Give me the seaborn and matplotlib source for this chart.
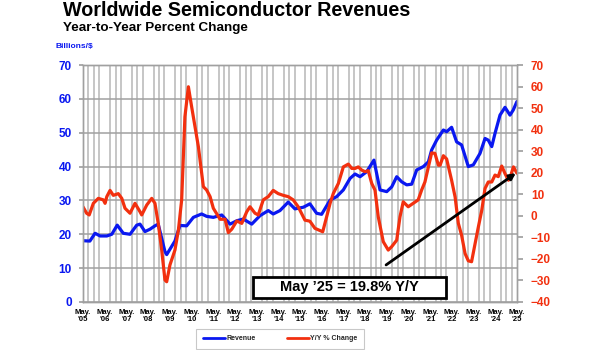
import matplotlib
matplotlib.use("Agg")
import matplotlib.pyplot as plt
import seaborn as sns
import numpy as np
from matplotlib.lines import Line2D
from matplotlib.patches import Rectangle

# ---- data ----
rev_t = [2005.33, 2005.65, 2005.89, 2006.12, 2006.43, 2006.66, 2006.91, 2007.19, 2007.50, 2007.81,
         2007.96, 2008.19, 2008.42, 2008.65, 2008.80, 2009.11, 2009.19, 2009.57, 2009.80, 2010.11,
         2010.42, 2010.80, 2011.03, 2011.34, 2011.73, 2012.11, 2012.42, 2012.72, 2013.11, 2013.49,
         2013.87, 2014.10, 2014.41, 2014.79, 2015.10, 2015.49, 2015.79, 2016.10, 2016.33, 2016.72,
         2017.02, 2017.33, 2017.64, 2017.87, 2018.10, 2018.41, 2018.74, 2019.02, 2019.33, 2019.56,
         2019.79, 2020.02, 2020.25, 2020.48, 2020.71, 2021.02, 2021.25, 2021.40, 2021.63, 2021.94,
         2022.09, 2022.32, 2022.55, 2022.78, 2023.09, 2023.32, 2023.63, 2023.86, 2024.01, 2024.17,
         2024.32, 2024.55, 2024.78, 2025.01, 2025.16, 2025.33]
rev_v = [18.1, 18.0, 20.3, 19.5, 19.5, 20.0, 22.7, 20.3, 20.0, 22.7,
         23.0, 20.8, 21.5, 22.5, 23.0, 14.9, 14.0, 18.0, 22.6, 22.5,
         25.0, 26.0, 25.3, 25.0, 25.7, 23.0, 24.0, 24.5, 23.0, 25.5,
         27.0, 26.0, 27.0, 29.5, 27.5, 28.0, 29.0, 26.2, 25.9, 30.1,
         31.1, 33.1, 36.5, 37.8, 37.0, 38.5, 41.9, 33.1, 32.6, 34.0,
         37.0, 35.5, 34.6, 34.8, 39.0, 40.0, 41.4, 44.9, 47.8, 50.8,
         50.3, 51.6, 47.3, 46.4, 40.0, 40.5, 43.9, 48.3, 47.8, 45.9,
         49.8, 55.2, 57.5, 55.2, 56.7, 59.2]

yoy_t = [2005.33, 2005.50, 2005.62, 2005.81, 2006.04, 2006.27, 2006.35, 2006.43, 2006.58, 2006.73,
         2006.96, 2007.12, 2007.27, 2007.50, 2007.73, 2007.96, 2008.04, 2008.27, 2008.50, 2008.65,
         2008.80, 2008.96, 2009.11, 2009.19, 2009.34, 2009.57, 2009.73, 2009.88, 2010.03, 2010.19,
         2010.34, 2010.65, 2010.88, 2011.03, 2011.19, 2011.34, 2011.65, 2011.88, 2012.03, 2012.19,
         2012.42, 2012.65, 2012.88, 2013.03, 2013.26, 2013.41, 2013.64, 2013.87, 2014.10, 2014.33,
         2014.56, 2014.79, 2015.02, 2015.25, 2015.56, 2015.79, 2016.02, 2016.38, 2016.56, 2016.72,
         2016.87, 2017.10, 2017.33, 2017.56, 2017.72, 2017.87, 2018.02, 2018.18, 2018.33, 2018.48,
         2018.64, 2018.79, 2018.94, 2019.17, 2019.40, 2019.56, 2019.79, 2019.94, 2020.09, 2020.32,
         2020.55, 2020.78, 2020.94, 2021.09, 2021.25, 2021.40, 2021.55, 2021.71, 2021.79, 2021.94,
         2022.09, 2022.32, 2022.48, 2022.63, 2022.78, 2022.94, 2023.09, 2023.24, 2023.40, 2023.55,
         2023.71, 2023.86, 2024.01, 2024.17, 2024.32, 2024.47, 2024.63, 2024.78, 2024.94, 2025.05,
         2025.17, 2025.33]
yoy_v = [4.2, 1.2, 0.4, 5.8, 8.1, 7.4, 5.8, 8.9, 11.8, 9.5,
         10.3, 8.1, 3.5, 1.2, 5.8, 1.9, 0.4, 5.0, 8.1, 5.8,
         -3.5, -15.9, -29.8, -30.6, -22.8, -15.9, -6.6, 7.4, 46.0, 59.9,
         50.6, 32.1, 13.5, 12.0, 8.9, 3.5, -1.6, -1.6, -7.8, -6.2,
         -2.4, -3.5, 1.9, 4.2, 1.2, 0.4, 7.4, 8.9, 11.8, 10.3,
         9.5, 8.9, 7.4, 4.2, -2.0, -2.5, -5.8, -7.4, -0.5, 5.8,
         10.4, 15.0, 22.7, 24.0, 22.0, 22.0, 22.7, 21.2, 20.5, 20.9,
         15.0, 11.9, -0.5, -12.0, -15.9, -14.3, -11.3, -0.5, 6.5, 4.2,
         5.8, 7.4, 12.0, 15.7, 22.7, 29.2, 29.0, 23.5, 23.5, 27.9,
         26.4, 16.5, 8.8, -3.5, -9.0, -17.5, -20.9, -21.3, -13.0, -5.3,
         2.6, 12.7, 15.7, 15.7, 18.9, 18.2, 23.1, 19.6, 16.5, 18.9,
         22.7, 19.8]

years = list(range(2005, 2026))
x_labels = ["May.\n'%02d" % (y % 100) for y in years]
left_ticks = [0, 10, 20, 30, 40, 50, 60, 70]
right_ticks = [-40, -30, -20, -10, 0, 10, 20, 30, 40, 50, 60, 70]

title = "Worldwide Semiconductor Revenues"
subtitle = "Year-to-Year Percent Change"
callout = "May \u201925 = 19.8% Y/Y"

BLUE = "#0a18f0"
RED = "#f2300f"
GRID_H = "#a0a0a0"
GRID_V = "#bcbcbc"

sns.set_theme(style="white")
plt.rcParams['font.family'] = ['Liberation Sans', 'DejaVu Sans']

W, H = 600, 350
fig = plt.figure(figsize=(W / 100, H / 100), dpi=100)
fig.patch.set_facecolor("white")
L, R, T, B = 83, 517, 65, 302
ax = fig.add_axes([L / W, 1 - B / H, (R - L) / W, (B - T) / H])
ax2 = ax.twinx()

sns.lineplot(x=rev_t, y=rev_v, ax=ax, color=BLUE, linewidth=2.3, sort=False)
sns.lineplot(x=yoy_t, y=yoy_v, ax=ax2, color=RED, linewidth=2.3, sort=False)

x0 = years[0] + 4 / 12
x1 = years[-1] + 4 / 12
ax.set_xlim(x0, x1)
ax.set_ylim(0, 70)
ax2.set_ylim(-40, 70)

ax.set_xticks([y + 4 / 12 for y in years])
ax.set_xticklabels(x_labels)
ax.set_xticks(np.arange(x0, x1 + 0.01, 0.25), minor=True)
ax.set_yticks(left_ticks)
ax2.set_yticks(right_ticks)

ax.grid(False)
ax2.grid(False)
ax.grid(axis="x", which="minor", color=GRID_V, linewidth=1.2)
ax.grid(axis="y", which="major", color=GRID_H, linewidth=1.1)
ax.set_axisbelow(True)

ax.tick_params(axis="x", which="major", length=0, pad=5, labelsize=5.5, labelcolor="black")
ax.tick_params(axis="x", which="minor", length=0)
for lbl in ax.get_xticklabels():
    lbl.set_fontweight("bold")
    lbl.set_linespacing(1.1)
ax.tick_params(axis="y", length=3, color=GRID_H, pad=5, labelsize=8.5, labelcolor=BLUE)
for lbl in ax.get_yticklabels():
    lbl.set_fontweight("bold")
ax2.tick_params(axis="y", length=4, color=GRID_H, pad=6, labelsize=8.5, labelcolor=RED)
for lbl in ax2.get_yticklabels():
    lbl.set_fontweight("bold")

for a in (ax, ax2):
    a.set_xlabel("")
    a.set_ylabel("")
    for s in a.spines.values():
        s.set_color(GRID_H)
        s.set_linewidth(1.0)

# titles
fig.text(63 / W, 1 - 1 / H, title, ha="left", va="top", fontsize=14.2, fontweight="heavy", color="black")
fig.text(63 / W, 1 - 22 / H, subtitle, ha="left", va="top", fontsize=9.7, fontweight="bold", color="black")
fig.text(56 / W, 1 - 43 / H, "Billions/$", ha="left", va="top", fontsize=6, fontweight="bold", color=BLUE)

# callout box
bx0, bx1, by0, by1 = 253, 446, 277, 298
rect = Rectangle((bx0 / W, 1 - by1 / H), (bx1 - bx0) / W, (by1 - by0) / H,
                 transform=fig.transFigure, facecolor="white", edgecolor="black",
                 linewidth=2.0, zorder=10)
ax2.add_patch(rect)
rect.set_clip_on(False)
ax2.text((bx0 + bx1) / 2 / W, 1 - (by0 + by1) / 2 / H, callout, transform=fig.transFigure,
         ha="center", va="center", fontsize=10.5, fontweight="bold", color="black", zorder=11)

# arrow
ax2.annotate("", xy=(yoy_t[-1] - 0.05, yoy_v[-1]), xytext=(2019.3, -22.8),
             arrowprops=dict(arrowstyle="-|>", color="black", lw=2.0, mutation_scale=9,
                             shrinkA=0, shrinkB=0), zorder=12)

# legend
handles = [Line2D([0], [0], color=BLUE, lw=2), Line2D([0], [0], color=RED, lw=2)]
leg = fig.legend(handles, ["Revenue", "Y/Y % Change"], loc="center",
                 bbox_to_anchor=(280 / W, 1 - 339 / H), ncol=2, fontsize=5,
                 frameon=True, fancybox=False, edgecolor="#bbbbbb", handlelength=3.2,
                 handletextpad=0.2, columnspacing=4.5, borderpad=0.9)
leg.get_frame().set_linewidth(0.8)
for txt in leg.get_texts():
    txt.set_fontweight("bold")

fig.savefig("out.png", dpi=100, facecolor="white")
